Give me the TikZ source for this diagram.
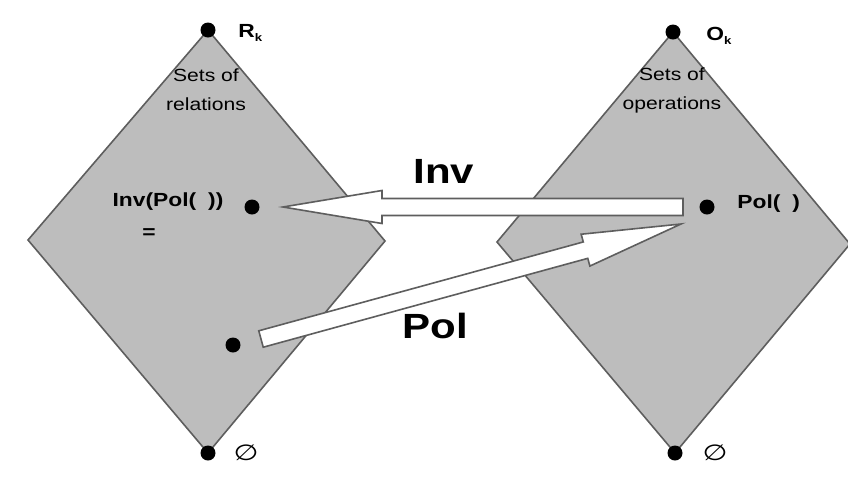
\documentclass[tikz,border=0pt]{standalone}
\usepackage{fontspec}
\setmainfont[FakeStretch=1.2]{Liberation Sans}
\newfontfamily\emptysetfont[FakeStretch=1.3]{DejaVu Sans}
\usetikzlibrary{calc}
\definecolor{setFill}{HTML}{BDBDBD}
\definecolor{setEdge}{HTML}{5E5E5E}

\tikzset{
  setdiamond/.style={fill=setFill, draw=setEdge, line width=0.8pt},
  dot/.style={circle, fill=black, inner sep=0pt, minimum size=7.5pt},
  blockarrow/.style={fill=white, draw=setEdge, line width=0.8pt},
  lbl/.style={inner sep=0pt, font=\fontsize{9.5}{11}\selectfont\bfseries},
  setlbl/.style={inner sep=0pt, align=center, font=\fontsize{8.8}{14.5}\selectfont},
  biglbl/.style={inner sep=0pt, font=\fontsize{17.5}{20}\selectfont\bfseries},
  emptylbl/.style={inner sep=0pt, font=\fontsize{11}{13}\emptysetfont},
}

% open block arrow from #1 to #2
\newcommand{\blockarrow}[2]{%
  \coordinate (hb) at ($(#2)!49.5pt!(#1)$);
  \draw[blockarrow] ($(#1)!4.25pt!90:(#2)$) -- ($(hb)!4.25pt!90:(#2)$)
    -- ($(hb)!8.25pt!90:(#2)$) -- (#2) -- ($(hb)!8.25pt!-90:(#2)$)
    -- ($(hb)!4.25pt!-90:(#2)$) -- ($(#1)!4.25pt!-90:(#2)$) -- cycle;}

\begin{document}
\begin{tikzpicture}[x=0.5pt, y=-0.5pt]
  \fill[white] (0,0) rectangle (848,478);
  \useasboundingbox (0,0) rectangle (848,478);

  % corners of the two sets
  \coordinate (rtop) at (208,30);
  \coordinate (rbot) at (208,453);
  \coordinate (rleft) at (28,240);
  \coordinate (rright) at (385,241);
  \coordinate (otop) at (673,32);
  \coordinate (obot) at (675,453);
  \coordinate (oleft) at (497,242);
  \coordinate (oright) at (850,244);
  \draw[setdiamond] (rtop) -- (rright) -- (rbot) -- (rleft) -- cycle;
  \draw[setdiamond] (otop) -- (oright) -- (obot) -- (oleft) -- cycle;

  % points
  \node[dot] (R) at (rtop) {};
  \node[dot] (Rempty) at (rbot) {};
  \node[dot] (O) at (otop) {};
  \node[dot] (Oempty) at (obot) {};
  \node[dot] (invpol) at (252,207) {};
  \node[dot] (rel) at (233,345) {};
  \node[dot] (pol) at (707,207) {};

  % Inv and Pol maps
  \coordinate (invtail) at ($(pol)+(-24,0)$);
  \coordinate (invtip) at ($(invpol)+(31,0)$);
  \coordinate (poltail) at ($(rel)+(28,-6)$);
  \coordinate (poltip) at ($(pol)+(-26,17)$);
  \blockarrow{invtail}{invtip}
  \blockarrow{poltail}{poltip}

  % labels
  \node[lbl, anchor=west] (Rk) at (238,33) {R\raisebox{-0.4ex}{\fontsize{5.5}{6}\selectfont k}};
  \node[lbl, anchor=west] (Ok) at (706,36) {O\raisebox{-0.4ex}{\fontsize{5.5}{6}\selectfont k}};
  \node[setlbl] (relsets) at (206,90) {Sets of\\relations};
  \node[setlbl] (opsets) at (672,90) {Sets of\\operations};
  \node[lbl] (invpollbl) at (168,202) {Inv(Pol(\hspace{6pt}))};
  \node[lbl] (eq) at (149,234) {=};
  \node[lbl, anchor=west] (pollbl) at (737,204) {Pol(\hspace{6pt})};
  \node[biglbl] (invname) at (444,171) {Inv};
  \node[biglbl] (polname) at (435,326) {Pol};
  \node[emptylbl] (rnull) at (246,453) {∅};
  \node[emptylbl] (onull) at (715,453) {∅};
\end{tikzpicture}
\end{document}
